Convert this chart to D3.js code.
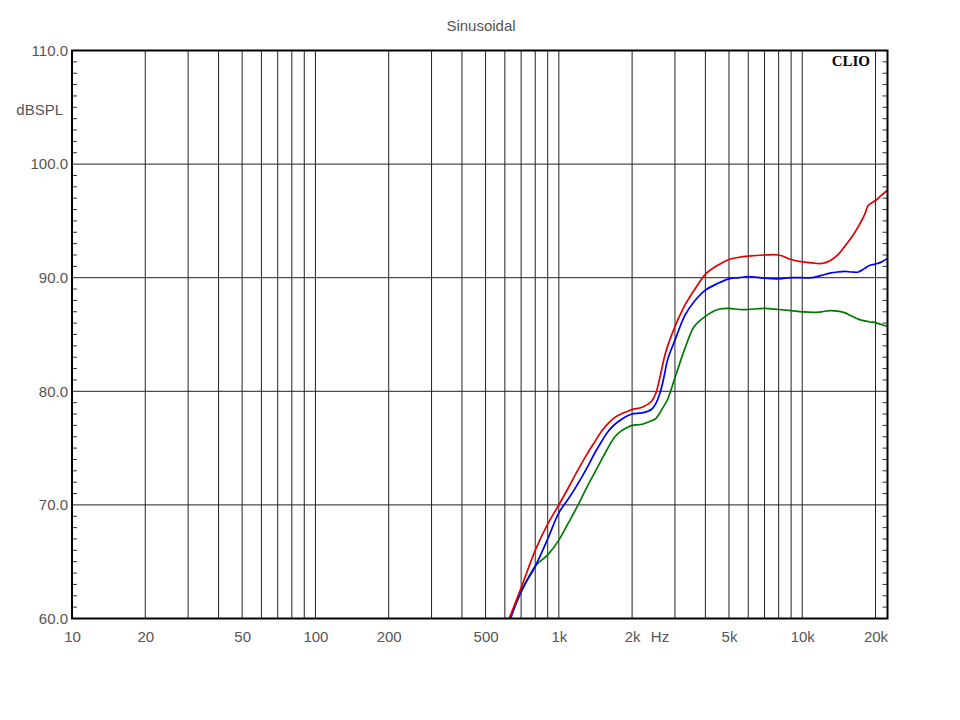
<!DOCTYPE html>
<html>
<head>
<meta charset="utf-8">
<script src="https://cdn.jsdelivr.net/npm/d3@7"></script>
<style>
  html, body { margin: 0; padding: 0; background: #fff; }
  svg { display: block; }
</style>
</head>
<body>
<div id="chart"></div>
<script>
// ---- Data ----
const freqs = [620, 700, 800, 900, 1000, 1100, 1200, 1300, 1400, 1500, 1600, 1700, 1800, 1900, 2000,
  2200, 2400, 2500, 2600, 2700, 2800, 3000, 3300, 3600, 4000, 4500, 5000, 5500, 6000, 7000, 8000,
  9000, 10000, 11000, 12000, 13000, 14000, 15000, 16000, 17000, 18000, 18600, 19000, 20000, 21000, 22400];

const redDb = [59.8, 62.7, 66.0, 68.3, 70.0, 71.6, 73.1, 74.4, 75.5, 76.5, 77.2, 77.7, 78.0, 78.2, 78.4,
  78.6, 79.1, 79.8, 81.2, 82.8, 84.0, 85.7, 87.6, 88.9, 90.3, 91.1, 91.6, 91.8, 91.9, 92.0, 92.0,
  91.6, 91.4, 91.3, 91.25, 91.5, 92.0, 92.8, 93.6, 94.5, 95.5, 96.3, 96.5, 96.8, 97.2, 97.7];

const blueDb = [59.4, 62.4, 64.6, 67.0, 69.3, 70.6, 71.9, 73.2, 74.5, 75.6, 76.5, 77.1, 77.5, 77.8, 78.0,
  78.1, 78.4, 78.9, 79.8, 81.2, 82.8, 84.5, 86.7, 87.9, 88.9, 89.5, 89.9, 90.0, 90.1, 89.95, 89.9,
  90.0, 90.0, 90.0, 90.2, 90.4, 90.5, 90.55, 90.5, 90.5, 90.8, 91.0, 91.1, 91.2, 91.35, 91.7];

const greenDb = [59.7, 62.3, 64.6, 65.6, 66.9, 68.5, 70.0, 71.5, 72.8, 74.0, 75.1, 76.0, 76.5, 76.8, 77.0,
  77.1, 77.4, 77.6, 78.1, 78.7, 79.3, 81.2, 83.8, 85.7, 86.6, 87.2, 87.3, 87.2, 87.2, 87.3, 87.2,
  87.1, 87.0, 86.95, 87.0, 87.1, 87.05, 86.9, 86.6, 86.35, 86.2, 86.15, 86.1, 86.05, 85.9, 85.7];

const xTickValues = [10, 20, 50, 100, 200, 500, 1000, 2000, 5000, 10000, 20000];
const xTickLabels = ["10", "20", "50", "100", "200", "500", "1k", "2k", "5k", "10k", "20k"];
const xGridValues = [20, 30, 40, 50, 60, 70, 80, 90, 100, 200, 300, 400, 500, 600, 700, 800, 900,
  1000, 2000, 3000, 4000, 5000, 6000, 7000, 8000, 9000, 10000, 20000];
const yTickValues = [60, 70, 80, 90, 100, 110];
const yGridValues = [70, 80, 90, 100];
const yMinorValues = d3.range(61, 110, 1);

const titleText = "Sinusoidal";
const yUnitText = "dBSPL";
const xUnitText = "Hz";
const brandText = "CLIO";

// ---- Layout ----
const W = 960, H = 720;
const plot = { left: 72, right: 887.5, top: 50.5, bottom: 618.5 };
const labelFont = "'Liberation Sans', Arial, sans-serif";
const textColor = "#555";

const svg = d3.select("#chart").append("svg")
  .attr("width", W).attr("height", H)
  .attr("viewBox", `0 0 ${W} ${H}`);

const x = d3.scaleLog().domain([10, 22400]).range([plot.left, plot.right]);
const y = d3.scaleLinear().domain([60, 110]).range([plot.bottom, plot.top]);

svg.append("defs").append("clipPath").attr("id", "clip")
  .append("rect")
  .attr("x", plot.left).attr("y", plot.top)
  .attr("width", plot.right - plot.left).attr("height", plot.bottom - plot.top);

// Grid
const grid = svg.append("g").attr("stroke", "#222").attr("stroke-width", 1);
grid.selectAll("line.vx").data(xGridValues).join("line")
  .attr("x1", d => x(d)).attr("x2", d => x(d))
  .attr("y1", plot.top).attr("y2", plot.bottom);
grid.selectAll("line.hy").data(yGridValues).join("line")
  .attr("class", "hy")
  .attr("x1", plot.left).attr("x2", plot.right)
  .attr("y1", d => y(d)).attr("y2", d => y(d));

// Minor ticks (inside, left and right)
const minor = svg.append("g").attr("stroke", "#333").attr("stroke-width", 1);
minor.selectAll("line.l").data(yMinorValues.filter(v => v % 10 !== 0)).join("line")
  .attr("class", "l")
  .attr("x1", plot.left).attr("x2", plot.left + 5)
  .attr("y1", d => y(d)).attr("y2", d => y(d));
minor.selectAll("line.r").data(yMinorValues.filter(v => v % 10 !== 0)).join("line")
  .attr("class", "r")
  .attr("x1", plot.right - 5).attr("x2", plot.right)
  .attr("y1", d => y(d)).attr("y2", d => y(d));

// Curves
const series = [
  { name: "green", color: "#007a00", values: greenDb },
  { name: "blue", color: "#0000f0", values: blueDb },
  { name: "red", color: "#e00000", values: redDb }
];
const line = d3.line()
  .x(d => x(d[0])).y(d => y(d[1]))
  .curve(d3.curveCatmullRom.alpha(0.5));
const curves = svg.append("g").attr("clip-path", "url(#clip)");
curves.selectAll("path").data(series).join("path")
  .attr("fill", "none")
  .attr("stroke", d => d.color)
  .attr("stroke-width", 1.7)
  .attr("stroke-linejoin", "round")
  .attr("d", d => line(freqs.map((f, i) => [f, d.values[i]])));

// Border
svg.append("rect")
  .attr("x", plot.left).attr("y", plot.top)
  .attr("width", plot.right - plot.left).attr("height", plot.bottom - plot.top)
  .attr("fill", "none").attr("stroke", "#000").attr("stroke-width", 2);

// X axis labels
const xAxis = d3.axisBottom(x)
  .tickValues(xTickValues)
  .tickFormat((d, i) => xTickLabels[i])
  .tickSize(0).tickPadding(12.5);
const gx = svg.append("g").attr("transform", `translate(0,${plot.bottom})`).call(xAxis);
gx.select(".domain").remove();
gx.selectAll("text").attr("font-family", labelFont).attr("font-size", 15).attr("fill", textColor);

// Y axis labels
const yAxis = d3.axisLeft(y)
  .tickValues(yTickValues)
  .tickFormat(d3.format(".1f"))
  .tickSize(0).tickPadding(4);
const gy = svg.append("g").attr("transform", `translate(${plot.left},0)`).call(yAxis);
gy.select(".domain").remove();
gy.selectAll("text").attr("font-family", labelFont).attr("font-size", 15).attr("fill", textColor);

// Texts
svg.append("text").attr("x", 481).attr("y", 31).attr("text-anchor", "middle")
  .attr("font-family", labelFont).attr("font-size", 15).attr("fill", textColor)
  .text(titleText);
svg.append("text").attr("x", 63).attr("y", 115).attr("text-anchor", "end")
  .attr("font-family", labelFont).attr("font-size", 15).attr("fill", textColor)
  .text(yUnitText);
svg.append("text").attr("x", 660).attr("y", 641.5).attr("text-anchor", "middle")
  .attr("font-family", labelFont).attr("font-size", 15).attr("fill", textColor)
  .text(xUnitText);
svg.append("text").attr("x", 870).attr("y", 66).attr("text-anchor", "end")
  .attr("font-family", "'Liberation Serif', 'Times New Roman', serif")
  .attr("font-weight", "bold").attr("font-size", 15).attr("fill", "#000")
  .text(brandText);
</script>
</body>
</html>
